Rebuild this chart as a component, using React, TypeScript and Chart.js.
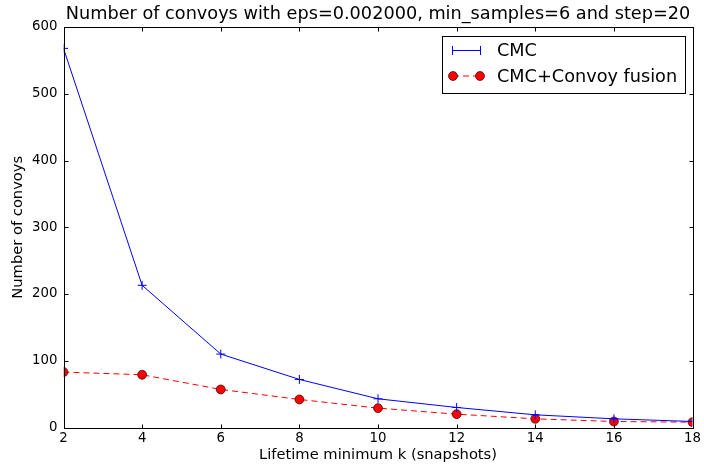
import React, { useEffect, useRef } from "react";
import { Chart, registerables } from "chart.js";

Chart.register(...registerables);

const kValues = [2, 4, 6, 8, 10, 12, 14, 16, 18];
const cmcCounts = [568, 213, 110, 72, 43, 30, 19, 13, 9];
const fusionCounts = [83, 79, 57, 42, 29, 20, 13, 9, 8];
const seriesLabels = ["CMC", "CMC+Convoy fusion"];
const chartTitle = "Number of convoys with eps=0.002000, min_samples=6 and step=20";
const xLabel = "Lifetime minimum k (snapshots)";
const yLabel = "Number of convoys";

const FONT = "'DejaVu Sans', sans-serif";

const framePlugin = {
  id: "mplFrame",
  beforeDatasetsDraw(chart: any) {
    const { ctx, chartArea: a } = chart;
    ctx.save();
    ctx.beginPath();
    ctx.rect(a.left, a.top, a.right - a.left, a.bottom - a.top);
    ctx.clip();
  },
  afterDatasetsDraw(chart: any) {
    chart.ctx.restore();
  },
  afterDraw(chart: any) {
    const { ctx, chartArea: a, scales, width } = chart;
    ctx.save();
    // mask marker overflow outside the axes (matplotlib clips markers to the axes)
    ctx.fillStyle = "#fff";
    ctx.fillRect(a.left - 5.5, a.top - 6, 5.5, a.bottom - a.top + 6);
    ctx.fillRect(a.right, a.top - 6, width - a.right, a.bottom - a.top + 6);

    ctx.strokeStyle = "#000";
    ctx.lineWidth = 1;
    const L = Math.round(a.left) + 0.5;
    const R = Math.round(a.right) + 0.5;
    const T = Math.round(a.top) + 0.5;
    const B = Math.round(a.bottom) + 0.5;
    ctx.strokeRect(L, T, R - L, B - T);
    const tl = 4;
    ctx.beginPath();
    scales.x.ticks.forEach((t: any) => {
      const px = Math.round(scales.x.getPixelForValue(t.value)) + 0.5;
      ctx.moveTo(px, B);
      ctx.lineTo(px, B - tl);
      ctx.moveTo(px, T);
      ctx.lineTo(px, T + tl);
    });
    scales.y.ticks.forEach((t: any) => {
      const py = Math.round(scales.y.getPixelForValue(t.value)) + 0.5;
      ctx.moveTo(L, py);
      ctx.lineTo(L + tl, py);
      ctx.moveTo(R, py);
      ctx.lineTo(R - tl, py);
    });
    ctx.stroke();

    // title
    ctx.fillStyle = "#000";
    ctx.font = `17.7px ${FONT}`;
    ctx.textAlign = "center";
    ctx.textBaseline = "middle";
    ctx.fillText(chartTitle, (a.left + a.right) / 2, 14);

    // legend
    const lx = 442.5, ly = 36.5, lw = 243, lh = 57;
    ctx.fillStyle = "#fff";
    ctx.fillRect(lx, ly, lw, lh);
    ctx.strokeStyle = "#000";
    ctx.lineWidth = 1;
    ctx.strokeRect(lx, ly, lw, lh);
    const rows = [50, 76];
    // CMC sample
    ctx.strokeStyle = "#0000ff";
    ctx.beginPath();
    ctx.moveTo(452, rows[0] + 0.5);
    ctx.lineTo(480, rows[0] + 0.5);
    ctx.moveTo(452.5, rows[0] - 4);
    ctx.lineTo(452.5, rows[0] + 5);
    ctx.moveTo(480.5, rows[0] - 4);
    ctx.lineTo(480.5, rows[0] + 5);
    ctx.stroke();
    // fusion sample
    ctx.strokeStyle = "#ff0000";
    ctx.setLineDash([6, 4]);
    ctx.beginPath();
    ctx.moveTo(453, rows[1]);
    ctx.lineTo(480, rows[1]);
    ctx.stroke();
    ctx.setLineDash([]);
    [453, 480].forEach((cx) => {
      ctx.beginPath();
      ctx.arc(cx, rows[1], 4.5, 0, Math.PI * 2);
      ctx.fillStyle = "#ff0000";
      ctx.fill();
      ctx.strokeStyle = "#000";
      ctx.lineWidth = 0.6;
      ctx.stroke();
    });
    ctx.fillStyle = "#000";
    ctx.font = `17.7px ${FONT}`;
    ctx.textAlign = "left";
    ctx.textBaseline = "middle";
    ctx.fillText(seriesLabels[0], 497, rows[0] + 1);
    ctx.fillText(seriesLabels[1], 497, rows[1] + 1);
    ctx.restore();
  },
};

export default function App() {
  const ref = useRef<HTMLCanvasElement | null>(null);
  useEffect(() => {
    document.body.style.margin = "0";
    const canvas = ref.current!;
    const chart = new Chart(canvas, {
      type: "line",
      data: {
        datasets: [
          {
            label: seriesLabels[0],
            data: kValues.map((k, i) => ({ x: k, y: cmcCounts[i] })),
            borderColor: "#0000ff",
            backgroundColor: "#0000ff",
            borderWidth: 1,
            pointStyle: "cross",
            pointRadius: 4.5,
            pointBorderWidth: 1,
            pointBorderColor: "#0000ff",
            tension: 0,
            clip: false,
          },
          {
            label: seriesLabels[1],
            data: kValues.map((k, i) => ({ x: k, y: fusionCounts[i] })),
            borderColor: "#ff0000",
            backgroundColor: "#ff0000",
            borderWidth: 1,
            borderDash: [6, 4],
            pointStyle: "circle",
            pointRadius: 4.5,
            pointBorderWidth: 0.6,
            pointBorderColor: "#000",
            pointBackgroundColor: "#ff0000",
            tension: 0,
            clip: false,
          },
        ],
      },
      options: {
        animation: false,
        responsive: false,
        devicePixelRatio: 1,
        layout: { padding: { top: 27, right: 11, left: 0, bottom: 0 } },
        plugins: {
          legend: { display: false },
          title: { display: false },
          tooltip: { enabled: false },
        },
        scales: {
          x: {
            type: "linear",
            min: 2,
            max: 18,
            ticks: {
              stepSize: 2,
              color: "#000",
              font: { family: FONT, size: 13.3 },
              padding: 3,
              maxRotation: 0,
            },
            grid: { display: false, drawTicks: false },
            border: { display: false },
            title: {
              display: true,
              text: xLabel,
              color: "#000",
              font: { family: FONT, size: 14.7 },
              padding: { top: 0, bottom: 4 },
            },
            afterFit(scale: any) {
              scale.height = 40.5;
            },
          },
          y: {
            type: "linear",
            min: 0,
            max: 600,
            ticks: {
              stepSize: 100,
              color: "#000",
              font: { family: FONT, size: 13.3 },
              padding: 6,
            },
            grid: { display: false, drawTicks: false },
            border: { display: false },
            title: {
              display: true,
              text: yLabel,
              color: "#000",
              font: { family: FONT, size: 14.7 },
              padding: { top: 9, bottom: 0 },
            },
            afterFit(scale: any) {
              scale.width = 63.5;
            },
          },
        },
      },
      plugins: [framePlugin],
    } as any);
    return () => chart.destroy();
  }, []);
  return <canvas ref={ref} width={704} height={468} style={{ display: "block" }} />;
}
